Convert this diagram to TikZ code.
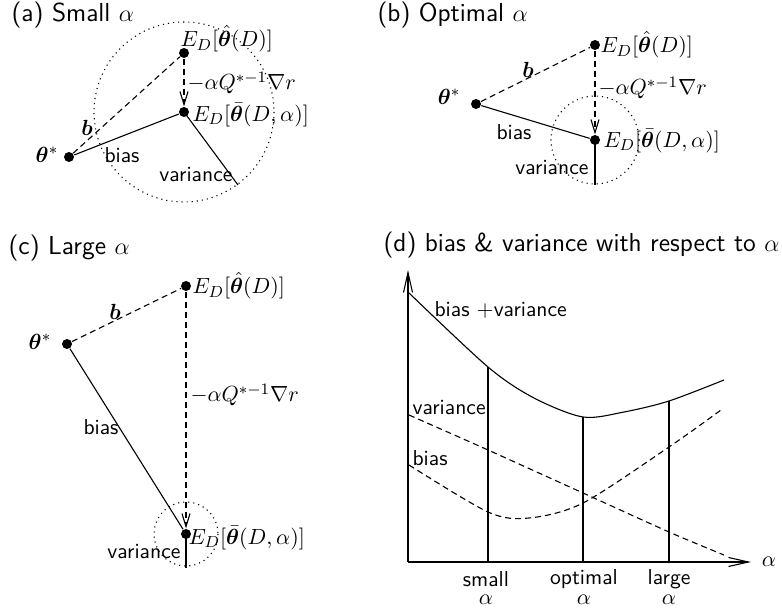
\documentclass[tikz,border=0pt]{standalone}
\usepackage{amsmath,bm}
\usetikzlibrary{arrows.meta}
\begin{document}
\begin{tikzpicture}[x=0.5pt,y=-0.5pt,line width=0.55pt,
  dot/.style={circle,fill,inner sep=0pt,minimum size=5pt},
  lbl/.style={font=\sffamily\fontsize{10.8}{13}\selectfont,inner sep=0pt},
  ttl/.style={font=\sffamily\fontsize{13}{15}\selectfont,inner sep=0pt,anchor=west},
  dsh/.style={dash pattern=on 3pt off 2pt},
  arr/.style={-{Straight Barb[length=6.5pt,width=4pt]}},
  axarr/.style={-{Straight Barb[length=10pt,width=4.5pt]}}]
\useasboundingbox (0,0) rectangle (782,613);
% ---------- (a)
\node[ttl] (ta) at (11,15) {(a) Small $\alpha$};
\node[dot] (a0) at (69,157) {};
\node[dot] (a1) at (184,53) {};
\node[dot] (a2) at (184,112) {};
\coordinate (a3) at (238,185);
\draw[dotted] (a2.center) circle[radius=90];
\draw[dsh] (a0) -- (a1);
\draw[dsh,arr] (a1) -- (a2);
\draw (a0) -- (a2);
\draw (a2.center) -- (a3);
\node[lbl] (la0) at (47,155) {$\bm\theta^*$};
\node[lbl,anchor=west] (la1) at (180,39) {$E_D[\hat{\bm\theta}(D)]$};
\node[lbl,anchor=west] (la2) at (192,115) {$E_D[\bar{\bm\theta}(D,\alpha)]$};
\node[lbl,anchor=west] (la3) at (187,83) {$-\alpha Q^{*-1}\nabla r$};
\node[lbl] (lab) at (87,128) {$\bm b$};
\node[lbl] (labi) at (122,155) {bias};
\node[lbl,anchor=east] (lava) at (233,175) {variance};
% ---------- (b)
\node[ttl] (tb) at (377,15) {(b) Optimal $\alpha$};
\node[dot] (b0) at (476,104) {};
\node[dot] (b1) at (595,45) {};
\node[dot] (b2) at (595,140) {};
\coordinate (b3) at (595,185);
\draw[dotted] (b2.center) circle[radius=44];
\draw[dsh] (b0) -- (b1);
\draw[dsh,arr] (b1) -- (b2);
\draw (b0) -- (b2);
\draw (b2.center) -- (b3);
\node[lbl] (lb0) at (449,97) {$\bm\theta^*$};
\node[lbl,anchor=west] (lb1) at (600,45) {$E_D[\hat{\bm\theta}(D)]$};
\node[lbl,anchor=west] (lb2) at (603,141) {$E_D[\bar{\bm\theta}(D,\alpha)]$};
\node[lbl,anchor=west] (lb3) at (598,88) {$-\alpha Q^{*-1}\nabla r$};
\node[lbl] (lbb) at (528,70) {$\bm b$};
\node[lbl] (lbbi) at (514,132) {bias};
\node[lbl,anchor=east] (lbva) at (589,168) {variance};
% ---------- (c)
\node[ttl] (tc) at (8,248) {(c) Large $\alpha$};
\node[dot] (c0) at (67,344) {};
\node[dot] (c1) at (186,286) {};
\node[dot] (c2) at (186,534) {};
\coordinate (c3) at (186,568);
\draw[dotted] (c2.center) circle[radius=32];
\draw[dsh] (c0) -- (c1);
\draw[dsh,arr] (c1) -- (c2);
\draw (c0) -- (c2);
\draw (c2.center) -- (c3);
\node[lbl] (lc0) at (40,342) {$\bm\theta^*$};
\node[lbl,anchor=west] (lc1) at (192,286) {$E_D[\hat{\bm\theta}(D)]$};
\node[lbl,anchor=west] (lc2) at (188,538) {$E_D[\bar{\bm\theta}(D,\alpha)]$};
\node[lbl,anchor=west] (lc3) at (190,395) {$-\alpha Q^{*-1}\nabla r$};
\node[lbl] (lcb) at (115,312) {$\bm b$};
\node[lbl] (lcbi) at (101,427) {bias};
\node[lbl,anchor=east] (lcva) at (181,552) {variance};
% ---------- (d)
\node[ttl] (td) at (383,245) {(d) bias \& variance with respect to $\alpha$};
\coordinate (O) at (408,562);
\coordinate (yt) at (408,270);
\coordinate (xe) at (751,562);
\draw[axarr] (O) -- (yt);
\draw[axarr] (O) -- (xe);
\node[lbl] (lal) at (769,562) {$\alpha$};
\draw plot[smooth] coordinates {(409,293) (488,367) (534,398) (583,417) (624,412) (669,401) (724,380)};
\draw[dsh] plot[smooth] coordinates {(409,415) (488,450) (583,493) (669,532) (724,555)};
\draw[dsh] plot[smooth] coordinates {(409,465) (488,512) (529,518) (583,503) (669,447) (721,410)};
\coordinate (s0) at (488,562); \coordinate (s1) at (488,367);
\coordinate (o0) at (583,562); \coordinate (o1) at (583,417);
\coordinate (g0) at (669,562); \coordinate (g1) at (669,401);
\draw (s0) -- (s1);
\draw (o0) -- (o1);
\draw (g0) -- (g1);
\node[lbl,anchor=west] (ltot) at (434,310) {bias $+$variance};
\node[lbl,anchor=west] (lvar) at (412,408) {variance};
\node[lbl,anchor=west] (lbia) at (412,458) {bias};
\node[lbl] (ls) at (486,579) {small};
\node[lbl] (lsa) at (486,600) {$\alpha$};
\node[lbl] (lo) at (584,579) {optimal};
\node[lbl] (loa) at (584,600) {$\alpha$};
\node[lbl] (lg) at (669,579) {large};
\node[lbl] (lga) at (669,600) {$\alpha$};
\end{tikzpicture}
\end{document}
